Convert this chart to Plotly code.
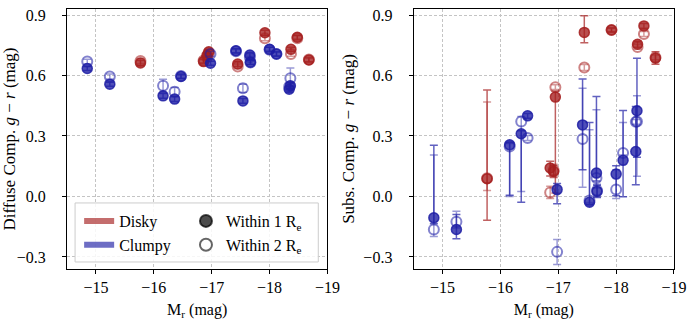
import plotly.graph_objects as go
from plotly.subplots import make_subplots

# absolute r-band magnitude of each galaxy and its morphology (D = disky, C = clumpy)
mag = [-14.85, -15.24, -15.77, -16.16, -16.36, -16.47, -16.86, -16.92, -16.95, -16.98, -17.42, -17.45,
       -17.54, -17.66, -17.67, -17.92, -18.00, -18.12, -18.34, -18.36, -18.37, -18.48, -18.68]
morph = ['C', 'C', 'D', 'C', 'C', 'C', 'D', 'D', 'D', 'C', 'C', 'D',
         'C', 'C', 'C', 'D', 'C', 'C', 'C', 'C', 'D', 'D', 'D']

# diffuse component colour within 1 and 2 effective radii
diff_1re = [0.635, 0.557, 0.662, 0.499, 0.483, 0.595, 0.669, 0.700, 0.718, 0.661, 0.723, 0.657,
            0.474, 0.702, 0.666, 0.812, 0.730, 0.707, 0.532, 0.549, 0.730, 0.790, 0.677]
diff_1re_err = [0.010, 0.010, 0.012, 0.012, 0.012, 0.010, 0.010, 0.010, 0.010, 0.010, 0.010, 0.012,
                0.012, 0.010, 0.010, 0.012, 0.010, 0.010, 0.015, 0.015, 0.010, 0.010, 0.010]
diff_2re = [0.669, 0.595, 0.672, 0.549, 0.520, 0.598, 0.675, 0.690, 0.710, 0.707, 0.720, 0.645,
            0.537, 0.690, 0.665, 0.785, 0.728, 0.707, 0.545, 0.587, 0.707, 0.785, 0.680]
diff_2re_err = [0.012, 0.012, 0.012, 0.033, 0.020, 0.012, 0.012, 0.012, 0.012, 0.012, 0.012, 0.012,
                0.020, 0.012, 0.012, 0.012, 0.012, 0.012, 0.015, 0.050, 0.012, 0.012, 0.012]

# substructure component colour, with asymmetric errors
subs_1re = [-0.106, -0.164, 0.088, 0.256, 0.311, 0.400, 0.141, 0.124, 0.493, 0.034, 0.355, 0.814,
            -0.029, 0.116, 0.025, 0.826, 0.111, 0.179, 0.223, 0.425, 0.755, 0.846, 0.686]
subs_1re_hi = [0.360, 0.074, 0.440, 0.012, 0.015, 0.012, 0.033, 0.030, 0.030, 0.030, 0.228, 0.083,
               0.396, 0.380, 0.030, 0.010, 0.041, 0.247, 0.223, 0.261, 0.015, 0.012, 0.032]
subs_1re_lo = [0.030, 0.046, 0.206, 0.250, 0.340, 0.012, 0.040, 0.030, 0.476, 0.070, 0.222, 0.051,
               0.010, 0.040, 0.030, 0.010, 0.107, 0.180, 0.165, 0.231, 0.015, 0.012, 0.030]
subs_2re = [-0.164, -0.126, 0.090, 0.248, 0.372, 0.290, 0.020, 0.130, 0.542, -0.275, 0.285, 0.640,
            -0.020, 0.092, 0.030, 0.826, 0.034, 0.215, 0.370, 0.372, 0.742, 0.806, 0.690]
subs_2re_hi = [0.370, 0.052, 0.378, 0.015, 0.025, 0.012, 0.030, 0.030, 0.012, 0.061, 0.252, 0.015,
               0.351, 0.338, 0.030, 0.010, 0.099, 0.152, 0.012, 0.127, 0.012, 0.012, 0.012]
subs_2re_lo = [0.035, 0.030, 0.060, 0.248, 0.347, 0.012, 0.030, 0.030, 0.012, 0.063, 0.240, 0.015,
               0.010, 0.050, 0.030, 0.010, 0.044, 0.010, 0.012, 0.272, 0.012, 0.012, 0.012]

colors = {'D': (165, 30, 30), 'C': (30, 30, 165)}
names = {'D': 'Disky', 'C': 'Clumpy'}
FONT = 'Liberation Serif'


def rgba(c, a):
    return 'rgba(%d,%d,%d,%.2f)' % (c[0], c[1], c[2], a)


def pick(values, kind):
    return [v for v, m in zip(values, morph) if m == kind]


fig = make_subplots(rows=1, cols=2, horizontal_spacing=0.142)

panels = [
    (1, diff_1re, diff_1re_err, diff_1re_err, diff_2re, diff_2re_err, diff_2re_err),
    (2, subs_1re, subs_1re_hi, subs_1re_lo, subs_2re, subs_2re_hi, subs_2re_lo),
]
for col, y1, y1_hi, y1_lo, y2, y2_hi, y2_lo in panels:
    for kind in ['D', 'C']:
        c = colors[kind]
        # within 2 Re -> open circles
        fig.add_trace(go.Scatter(
            x=pick(mag, kind), y=pick(y2, kind), mode='markers', showlegend=False,
            marker=dict(symbol='circle-open', size=10, color=rgba(c, 0.55), line=dict(width=2)),
            error_y=dict(type='data', symmetric=False, array=pick(y2_hi, kind), arrayminus=pick(y2_lo, kind),
                         color=rgba(c, 0.45), thickness=1.5, width=4),
        ), row=1, col=col)
        # within 1 Re -> filled circles
        fig.add_trace(go.Scatter(
            x=pick(mag, kind), y=pick(y1, kind), mode='markers', showlegend=False,
            marker=dict(symbol='circle', size=10, color=rgba(c, 0.78), line=dict(width=1.5, color=rgba(c, 0.85))),
            error_y=dict(type='data', symmetric=False, array=pick(y1_hi, kind), arrayminus=pick(y1_lo, kind),
                         color=rgba(c, 0.7), thickness=1.5, width=4),
        ), row=1, col=col)

# legend entries
for kind in ['D', 'C']:
    c = colors[kind]
    fig.add_trace(go.Scatter(
        x=[None], y=[None], mode='none', fill='toself', name=names[kind], legend='legend',
        fillcolor=rgba(c, 0.65), line=dict(color=rgba(c, 0.8)), legendgroup=kind,
    ), row=1, col=1)
fig.add_trace(go.Scatter(
    x=[None], y=[None], mode='markers', name='Within 1 R<sub>e</sub>', legend='legend2', legendgroup='r1',
    marker=dict(symbol='circle', size=10, color='rgba(0,0,0,0.7)', line=dict(width=1.5, color='rgba(0,0,0,0.7)')),
), row=1, col=1)
fig.add_trace(go.Scatter(
    x=[None], y=[None], mode='markers', name='Within 2 R<sub>e</sub>', legend='legend2', legendgroup='r2',
    marker=dict(symbol='circle-open', size=10, color='rgba(0,0,0,0.6)', line=dict(width=2)),
), row=1, col=1)

# legend frame
fig.add_shape(type='rect', xref='x domain', yref='y domain', x0=0.031, x1=0.965, y0=0.027, y1=0.254,
              fillcolor='rgba(255,255,255,0.85)', line=dict(color='#cccccc', width=1), layer='above')

axis_common = dict(showline=True, mirror=True, linecolor='black', linewidth=1, ticks='outside', ticklen=4,
                   tickcolor='black', showgrid=True, gridcolor='#c4c4c4', griddash='3px,2px', gridwidth=0.8,
                   zeroline=False, automargin=False, tickfont=dict(family=FONT, size=16, color='black'))
xticks = [-15, -16, -17, -18, -19]
yticks = [-0.3, 0.0, 0.3, 0.6, 0.9]
for col in [1, 2]:
    fig.update_xaxes(range=[-14.5, -19], tickvals=xticks, title=dict(text='M<sub>r</sub> (mag)', standoff=8,
                     font=dict(family=FONT, size=16)), row=1, col=col, **axis_common)
    fig.update_yaxes(range=[-0.36, 0.93], tickvals=yticks, tickformat='.1f', ticklabelstandoff=13,
                     row=1, col=col, **axis_common)
fig.update_yaxes(title=dict(text='Diffuse Comp. <i>g</i> − <i>r</i> (mag)', standoff=4,
                            font=dict(family=FONT, size=17)), row=1, col=1)
fig.update_yaxes(title=dict(text='Subs. Comp. <i>g</i> − <i>r</i> (mag)', standoff=4,
                            font=dict(family=FONT, size=17)), row=1, col=2)

legend_common = dict(xanchor='left', yanchor='top', bgcolor='rgba(0,0,0,0)', borderwidth=0,
                     font=dict(family=FONT, size=16, color='black'), tracegroupgap=0, itemsizing='constant')
fig.update_layout(
    width=698, height=327, margin=dict(l=67, r=24, t=9, b=58),
    plot_bgcolor='white', paper_bgcolor='white',
    font=dict(family=FONT, color='black'),
    legend=dict(x=0.02, y=0.25, **legend_common),
    legend2=dict(x=0.196, y=0.25, **legend_common),
)

# page body has a default margin; drop it so the figure sits at the window corner
fig.write_html("out.html", config={'displayModeBar': False},
               post_script="document.body.style.margin = '0';")
